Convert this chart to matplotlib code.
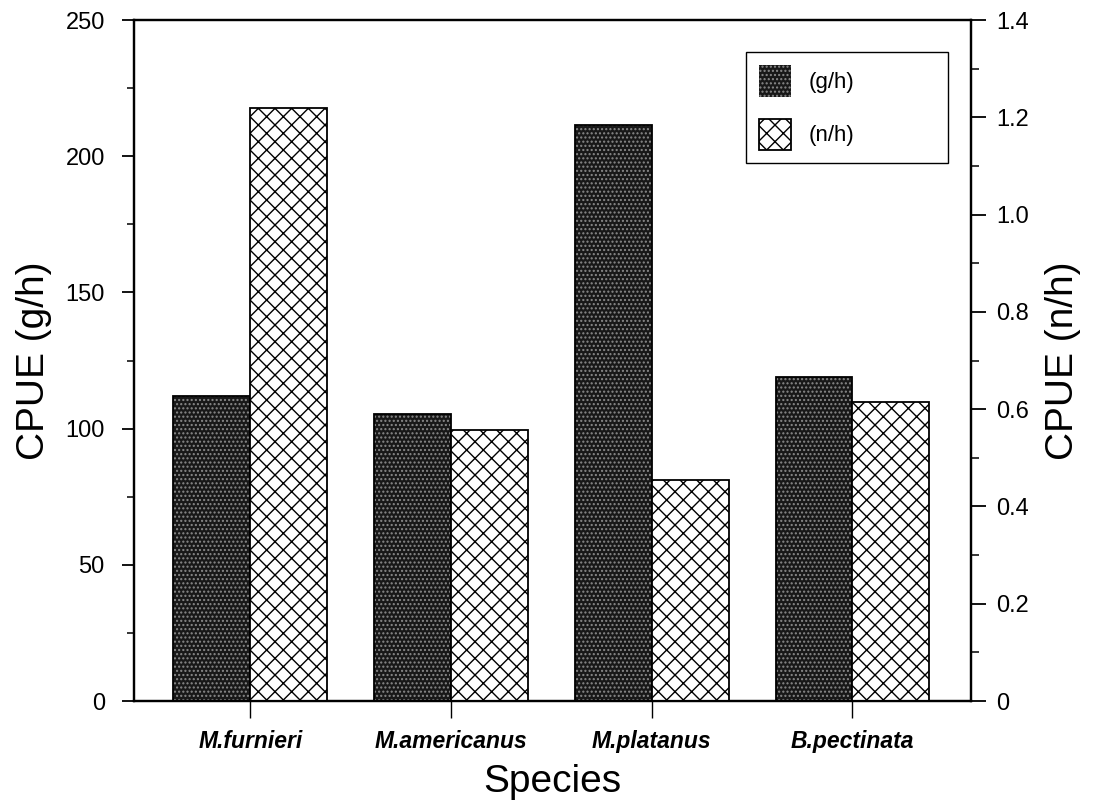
import numpy as np
import matplotlib
matplotlib.use('Agg')
import matplotlib.pyplot as plt
from matplotlib.ticker import MultipleLocator, FuncFormatter

plt.rcParams['font.family'] = ['Liberation Sans', 'DejaVu Sans']
plt.rcParams['hatch.linewidth'] = 1.0

# data
species = ['M.furnieri', 'M.americanus', 'M.platanus', 'B.pectinata']
cpue_gh = [112, 105.5, 211.5, 119]      # left axis, g/h
cpue_nh = [1.22, 0.557, 0.455, 0.615]   # right axis, n/h

x = np.arange(len(species))
w = 0.383

fig = plt.figure(figsize=(11.07, 8.08), dpi=100)
ax = fig.add_axes([0.121, 0.1324, 0.756, 0.8428])
ax2 = ax.twinx()

# g/h bars: dark stippled fill, then black outline
b1 = ax.bar(x - w/2, cpue_gh, w, facecolor='#181818', edgecolor='#8a8a8a',
            hatch='....', linewidth=0, label='(g/h)')
ax.bar(x - w/2, cpue_gh, w, fill=False, edgecolor='black', linewidth=1.3)

# n/h bars: white with cross hatch
b2 = ax2.bar(x + w/2, cpue_nh, w, facecolor='white', edgecolor='black',
             hatch='xx', linewidth=1.3, label='(n/h)')

ax.set_xlim(-0.58, 3.59)
ax.set_ylim(0, 250)
ax2.set_ylim(0, 1.4)

ax.yaxis.set_major_locator(MultipleLocator(50))
ax.yaxis.set_minor_locator(MultipleLocator(25))
ax2.yaxis.set_major_locator(MultipleLocator(0.2))
ax2.yaxis.set_minor_locator(MultipleLocator(0.1))
ax2.yaxis.set_major_formatter(FuncFormatter(lambda v, p: '0' if abs(v) < 1e-9 else '%.1f' % v))

ax.set_xticks(x)
ax.set_xticklabels(species, fontsize=16.5, fontstyle='italic', fontweight='bold')
ax.tick_params(axis='x', direction='out', length=12, width=1, pad=9, top=False)
ax.tick_params(axis='y', which='major', direction='out', length=9, width=1.3,
               labelsize=17, pad=12, right=False)
ax.tick_params(axis='y', which='minor', direction='out', length=5, width=1.1, right=False)
ax2.tick_params(axis='y', which='major', direction='out', length=11, width=1.3,
                labelsize=17, pad=7, left=False)
ax2.tick_params(axis='y', which='minor', direction='out', length=6, width=1.1, left=False)
ax2.tick_params(axis='x', top=False, bottom=False)

for a in (ax, ax2):
    for s in a.spines.values():
        s.set_linewidth(1.6)

ax.set_xlabel('Species', fontsize=28, labelpad=8)
ax.set_ylabel('CPUE (g/h)', fontsize=28, labelpad=10)
ax2.set_ylabel('CPUE (n/h)', fontsize=28, labelpad=12)

leg = ax2.legend(handles=[b1, b2], loc='upper right', bbox_to_anchor=(0.9725, 0.953),
                 borderaxespad=0, fancybox=False, edgecolor='black', framealpha=1,
                 fontsize=16, handlelength=1.4, handleheight=1.8, borderpad=0.6,
                 labelspacing=0.98, handletextpad=0.8)
leg.get_frame().set_linewidth(1.0)
# widen the legend box as in the reference, keeping entries on the left
leg._legend_box.align = 'left'
leg._legend_box.set_width(175)

fig.savefig('out.png', dpi=100)
